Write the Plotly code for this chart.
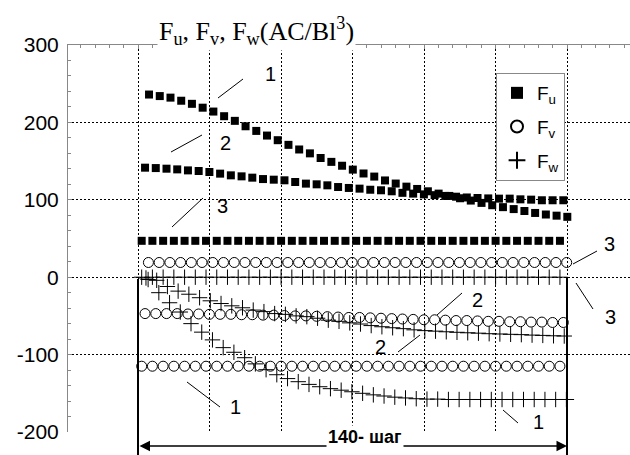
import plotly.graph_objects as go

# ---------------- data ----------------
STEP = 3.5            # steps between successive points
N_PTS = 40
# x offsets (in steps) of the first point of every series
OFF_FU = [3.6, 2.3, 1.2]
OFF_FV = [1.2, 2.3, 3.4]
OFF_FW = [3.3, 2.6, 1.2]

fu1 = [236, 234, 232, 228, 224, 219, 214, 208, 202, 195,
       189, 183, 177, 171, 165, 160, 154, 149, 144, 139,
       134, 130, 125, 121, 117, 114, 111, 108, 105, 102,
       99, 96, 93, 90.5, 88, 85.5, 83, 81, 79.5, 78]
fu2 = [141.5, 141, 140.2, 139.3, 138, 137.2, 135.9, 133.8, 131.6, 130.3,
       128.6, 126.8, 126, 125.2, 123, 120.9, 120, 118.7, 116.5, 115.3,
       114.4, 113, 112.3, 111, 109, 108, 107, 106, 105, 104,
       103, 102.3, 101.8, 101.5, 101.5, 100.6, 100.2, 99.4, 99.4, 99.4]
fu3 = [47] * N_PTS

fv1 = [-115] * N_PTS
fv2 = [-47, -47, -47, -47, -47.5, -47.5, -48, -48, -48, -48.5,
       -48.5, -49, -49, -49.5, -50, -50, -50.5, -51, -51.5, -52,
       -52, -52.5, -53, -53.5, -54, -54.5, -55, -55, -55.5, -56,
       -56, -56.5, -57, -57, -57.5, -57.5, -58, -58, -58.5, -58.5]
fv3 = [19] * N_PTS

fw1 = [-3, -20, -33, -45, -60, -71, -81, -91, -97, -104,
       -112, -119.5, -126, -131, -135, -138.5, -141.5, -144, -146, -148,
       -150, -152, -153.5, -155, -156, -157, -157.5, -157.5, -158, -158,
       -158, -158, -158, -158, -158, -158, -158, -158, -158, -158]
fw2 = [-1, -4, -12, -18, -22, -26.5, -30.5, -34, -37, -39.5,
       -42.5, -44.5, -47, -48, -50, -51, -53, -55.5, -57, -59,
       -60.5, -62.5, -64, -65.3, -66.5, -68, -69, -69.7, -70.5, -71.2,
       -71.8, -72.3, -73, -73.4, -73.8, -74.2, -74.8, -75.2, -75.7, -76]
fw3 = [0] * N_PTS

TOTAL_STEPS = 140
LEGEND_NAMES = ["F<sub>u</sub>", "F<sub>v</sub>", "F<sub>w</sub>"]
Y_TICKS = [-200, -100, 0, 100, 200, 300]
Y_TICK_TEXT = ["-200", "-100", "0", "100", "200", "300"]

# ---------------- layout geometry ----------------
W, H = 630, 455
L, R, T, B = 68, 630, 45, 432
PX_PER_STEP = 429 / TOTAL_STEPS
X0_PX = 138
xr = [(L - X0_PX) / PX_PER_STEP, (R - X0_PX) / PX_PER_STEP]


def px(x):
    return (x - L) / (R - L)


def py(y):
    return (B - y) / (B - T)


def xs(off, n):
    return [off + STEP * k for k in range(n)]


fig = go.Figure()

sq = dict(symbol="square", size=8, color="black")
ci = dict(symbol="circle-open", size=10, color="black", line=dict(width=1, color="black"))
cr = dict(symbol="cross-thin-open", size=11, color="black", line=dict(width=1, color="black"))

for i, (vals, off) in enumerate(zip([fu1, fu2, fu3], OFF_FU)):
    fig.add_trace(go.Scatter(x=xs(off, len(vals)), y=vals, mode="markers", marker=sq,
                             name=LEGEND_NAMES[0], showlegend=(i == 0), legendrank=1,
                             legendgroup="u"))
for i, (vals, off) in enumerate(zip([fv1, fv2, fv3], OFF_FV)):
    fig.add_trace(go.Scatter(x=xs(off, len(vals)), y=vals, mode="markers", marker=ci,
                             name=LEGEND_NAMES[1], showlegend=(i == 0), legendrank=2,
                             legendgroup="v"))
for i, (vals, off) in enumerate(zip([fw1, fw2, fw3], OFF_FW)):
    fig.add_trace(go.Scatter(x=xs(off, len(vals)), y=vals, mode="markers", marker=cr,
                             name=LEGEND_NAMES[2], showlegend=(i == 0), legendrank=3,
                             legendgroup="w"))

shapes = []
# leader lines for curve numbers
leaders = [(218, 98, 243, 79), (171, 152, 202, 135), (172, 227, 203, 198),
           (573, 264, 597, 251), (576, 283, 593, 309), (437, 315, 462, 293),
           (398, 352, 420, 335), (187, 382, 220, 407), (503, 410, 518, 423)]
for x1, y1, x2, y2 in leaders:
    shapes.append(dict(type="line", xref="paper", yref="paper",
                       x0=px(x1), y0=py(y1), x1=px(x2), y1=py(y2),
                       line=dict(color="black", width=1)))
# vertical bounds of the 140-step span
for xv, ytop in [(138, 279), (567, 277)]:
    shapes.append(dict(type="line", xref="paper", yref="paper",
                       x0=px(xv), x1=px(xv), y0=py(ytop), y1=py(H),
                       line=dict(color="black", width=2), layer="above"))

annotations = []
labels = [("1", 270, 74), ("2", 225, 143), ("3", 222, 206), ("3", 609, 244),
          ("3", 610, 317), ("2", 477, 300), ("2", 380, 347), ("1", 235, 407),
          ("1", 538, 422)]
for t, x, y in labels:
    annotations.append(dict(text=t, x=px(x), y=py(y), xref="paper", yref="paper",
                            showarrow=False, xanchor="center", yanchor="middle",
                            font=dict(family="Liberation Sans, Arial", size=20, color="black"),
                            bgcolor="white" if (x, y) == (538, 422) else "rgba(0,0,0,0)"))
# title
annotations.append(dict(text="F<sub>u</sub>, F<sub>v</sub>, F<sub>w</sub>(AC/Bl<sup>3</sup>)",
                        x=px(256), y=py(31), xref="paper", yref="paper", showarrow=False,
                        xanchor="center", yanchor="middle", bgcolor="white",
                        font=dict(family="Liberation Serif, Times New Roman", size=26, color="black")))
# double-headed arrow
annotations.append(dict(text="", x=px(567), y=py(446), xref="paper", yref="paper",
                        ax=-(567 - 138), ay=0, axref="pixel", ayref="pixel",
                        showarrow=True, arrowhead=2, arrowside="end+start",
                        arrowsize=1.4, arrowwidth=1.5, arrowcolor="black", standoff=0,
                        startstandoff=0))
annotations.append(dict(text="<b>%d- шаг</b>" % TOTAL_STEPS, x=px(365), y=py(437),
                        xref="paper", yref="paper", showarrow=False, bgcolor="white",
                        xanchor="center", yanchor="middle",
                        font=dict(family="Liberation Sans, Arial", size=18, color="black")))

fig.update_layout(
    width=W, height=H,
    margin=dict(l=L, r=W - R, t=T, b=H - B, pad=0),
    paper_bgcolor="white", plot_bgcolor="white",
    showlegend=True,
    legend=dict(x=px(496), y=py(73), xanchor="left", yanchor="top",
                bordercolor="#888", borderwidth=1, bgcolor="white",
                font=dict(family="Liberation Sans, Arial", size=19, color="black"),
                tracegroupgap=6, itemsizing="constant"),
    shapes=shapes, annotations=annotations,
)
fig.update_xaxes(range=xr, side="top", showline=True, linecolor="#888", linewidth=1,
                 showticklabels=False, ticks="inside", ticklen=4, tickcolor="#888",
                 tick0=0, dtick=TOTAL_STEPS / 6,
                 showgrid=True, gridcolor="black", gridwidth=1, griddash="2px,2px",
                 zeroline=False,
                 minor=dict(ticks="inside", ticklen=3, tickcolor="#888",
                            dtick=TOTAL_STEPS / 30, showgrid=False))
fig.update_yaxes(range=[-200, 300], showline=True, linecolor="#888", linewidth=1,
                 tickvals=Y_TICKS, ticktext=Y_TICK_TEXT, ticks="inside", ticklen=4,
                 tickcolor="#888", ticklabelstandoff=4,
                 tickfont=dict(family="Liberation Sans, Arial", size=21, color="black"),
                 showgrid=True, gridcolor="black", gridwidth=1, griddash="2px,2px",
                 zeroline=False,
                 minor=dict(ticks="inside", ticklen=3, tickcolor="#888", dtick=20,
                            showgrid=False))

fig.write_html("out.html", config={"displayModeBar": False},
               post_script="document.body.style.margin='0px';document.body.style.overflow='hidden';")
